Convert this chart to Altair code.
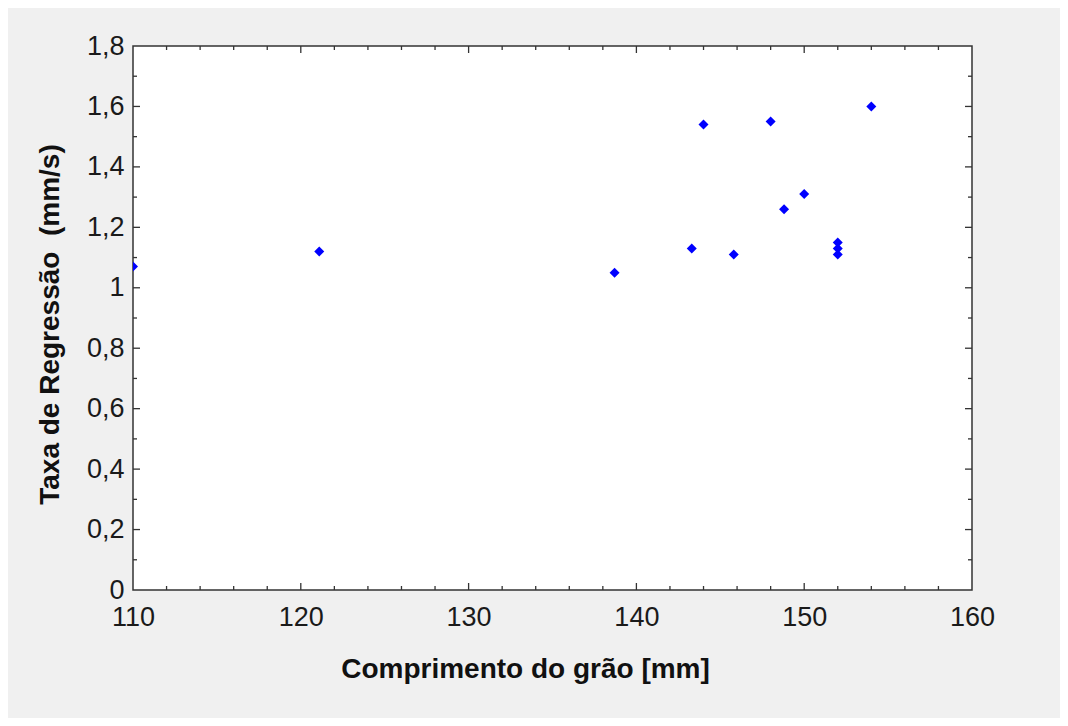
import altair as alt
import pandas as pd

# data
comprimento = [110.0, 121.1, 138.7, 143.3, 144.0, 145.8, 148.0, 148.8, 150.0, 152.0, 152.0, 152.0, 154.0]
taxa = [1.07, 1.12, 1.05, 1.13, 1.54, 1.11, 1.55, 1.26, 1.31, 1.15, 1.13, 1.11, 1.60]

x_ticks_major = [120, 130, 140, 150]
x_ticks_minor = [112, 114, 116, 118, 122, 124, 126, 128, 132, 134, 136, 138,
                 142, 144, 146, 148, 152, 154, 156, 158]
y_ticks_major = [0.2, 0.4, 0.6, 0.8, 1.0, 1.2, 1.4, 1.6]
y_ticks_minor = [0.1, 0.3, 0.5, 0.7, 0.9, 1.1, 1.3, 1.5, 1.7]
x_label_values = [110, 120, 130, 140, 150, 160]
y_label_values = [0, 0.2, 0.4, 0.6, 0.8, 1.0, 1.2, 1.4, 1.6, 1.8]

W, H = 839, 544
MAJ, MIN = 7, 4

pts = pd.DataFrame({"x": comprimento, "y": taxa})

xscale = alt.Scale(domain=[110, 160], nice=False, zero=False)
yscale = alt.Scale(domain=[0, 1.8], nice=False, zero=False)

label_expr = "replace(format(datum.value, '.1~f'), '.', ',')"

xaxis = alt.Axis(
    values=x_label_values, ticks=False, domain=False, grid=False,
    labelExpr=label_expr, labelFont="Liberation Sans", labelFontSize=27,
    labelColor="#1a1a1a", labelPadding=14, labelFlush=False,
    title="Comprimento do grão [mm]", titleFont="Liberation Sans",
    titleFontSize=28, titleFontWeight="bold", titleColor="#111",
    titleX=392, titleY=87, titleAlign="center", titleBaseline="alphabetic",
)
yaxis = alt.Axis(
    values=y_label_values, ticks=False, domain=False, grid=False,
    labelExpr=label_expr, labelFont="Liberation Sans", labelFontSize=27,
    labelColor="#1a1a1a", labelPadding=9, labelFlush=False,
    title="Taxa de Regressão\u00a0\u00a0(mm/s)", titleFont="Liberation Sans",
    titleFontSize=28, titleFontWeight="bold", titleColor="#111",
    titleX=-75, titleY=278, titleAngle=-90, titleAlign="center",
    titleBaseline="alphabetic",
)

X = alt.X("x:Q", scale=xscale, axis=xaxis)
Y = alt.Y("y:Q", scale=yscale, axis=yaxis)

def xticks(vals, length):
    df = pd.DataFrame({"x": vals})
    bottom = alt.Chart(df).mark_rule(color="#333", strokeWidth=1.3).encode(
        x=X, y=alt.value(H), y2=alt.value(H - length))
    top = alt.Chart(df).mark_rule(color="#333", strokeWidth=1.3).encode(
        x=X, y=alt.value(0), y2=alt.value(length))
    return [bottom, top]

def yticks(vals, length):
    df = pd.DataFrame({"y": vals})
    left = alt.Chart(df).mark_rule(color="#333", strokeWidth=1.3).encode(
        y=Y, x=alt.value(0), x2=alt.value(length))
    right = alt.Chart(df).mark_rule(color="#333", strokeWidth=1.3).encode(
        y=Y, x=alt.value(W), x2=alt.value(W - length))
    return [left, right]

points = alt.Chart(pts).mark_point(
    shape="diamond", filled=True, color="#0000ff", size=100, opacity=1, clip=True
).encode(x=X, y=Y)

layers = (xticks(x_ticks_major, MAJ) + xticks(x_ticks_minor, MIN)
          + yticks(y_ticks_major, MAJ) + yticks(y_ticks_minor, MIN) + [points])

chart = alt.layer(*layers).properties(
    width=W, height=H,
    autosize=alt.AutoSizeParams(type="none"),
    padding={"left": 125, "top": 38, "right": 88, "bottom": 128},
    background="#f0f0f0",
).configure_view(
    fill="white", stroke="#333", strokeWidth=1.5
)

chart.save("out.html", embed_options={"renderer": "svg", "actions": False})
